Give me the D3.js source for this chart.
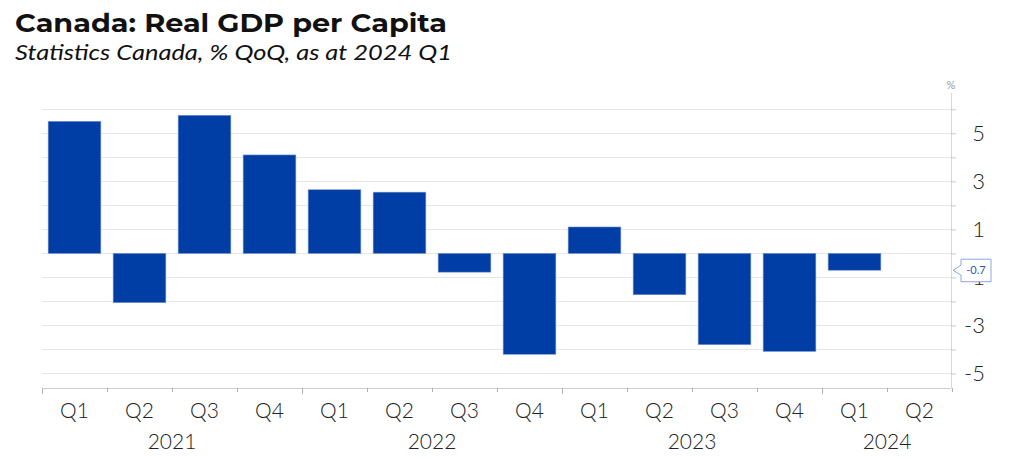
<!DOCTYPE html>
<html><head><meta charset="utf-8">
<script src="https://cdn.jsdelivr.net/npm/d3@7"></script>
<style>
body{margin:0;background:#fff;}
svg{display:block;font-family:"Lato","Open Sans","Noto Sans",sans-serif;}
</style></head>
<body>
<svg id="chart" width="1009" height="458"></svg>
<script>
const quarters = ["Q1","Q2","Q3","Q4","Q1","Q2","Q3","Q4","Q1","Q2","Q3","Q4","Q1","Q2"];
const years = ["2021","2021","2021","2021","2022","2022","2022","2022","2023","2023","2023","2023","2024","2024"];
const values = [5.5, -2.05, 5.75, 4.1, 2.65, 2.55, -0.78, -4.2, 1.1, -1.72, -3.8, -4.08, -0.7, null];
const yTicks = [5, 3, 1, -1, -3, -5];
const gridValues = [6,5,4,3,2,1,0,-1,-2,-3,-4,-5];
const yearLabels = ["2021","2022","2023","2024"];
const lastLabel = "-0.7";

(function(){
const svg = d3.select("#chart");
const pL = 42, pR = 951, pT = 93, pB = 388;
const keys = quarters.map((q,i)=>years[i]+" "+q);

const x = d3.scaleBand().domain(keys).range([pL, pR+1]).paddingInner(0.19).paddingOuter(0.095);
const y = d3.scaleLinear().domain([-5.605, 6.68]).range([pB, pT]);

// title
svg.append("text").attr("x",15).attr("y",32).text("Canada: Real GDP per Capita")
  .attr("font-family","Montserrat, Lato, 'Open Sans', sans-serif")
  .attr("font-weight",700).attr("font-size",26).attr("fill","#111")
  .attr("textLength",432).attr("lengthAdjust","spacingAndGlyphs");
svg.append("text").attr("x",15).attr("y",60).text("Statistics Canada, % QoQ, as at 2024 Q1")
  .attr("font-style","italic").attr("font-size",21).attr("fill","#111")
  .attr("textLength",437).attr("lengthAdjust","spacingAndGlyphs");

// gridlines
svg.append("g").selectAll("line").data(gridValues).join("line")
  .attr("x1",pL).attr("x2",pR)
  .attr("y1",d=>Math.round(y(d))+0.5).attr("y2",d=>Math.round(y(d))+0.5)
  .attr("stroke","#e6e6e6").attr("stroke-width",1.2);

// right axis
const yAxis = d3.axisRight(y).tickValues(gridValues).tickSize(5).tickFormat("");
const ga = svg.append("g").attr("transform",`translate(${pR},0)`).call(yAxis);
ga.select(".domain").attr("stroke","#d8d8d8").attr("d",`M0.5,${pT}V${pB}`);
ga.selectAll(".tick line").attr("stroke","#c8c8c8");
svg.append("g").selectAll("text").data(yTicks).join("text")
  .attr("x",985).attr("y",d=>y(d)).attr("dy","0.36em").attr("text-anchor","end")
  .attr("font-size",22).attr("font-weight",300).attr("fill","#222").text(d=>d);
svg.append("text").attr("x",951).attr("y",89).attr("text-anchor","middle")
  .attr("font-size",11).attr("fill","#999").text("%");

// bars
svg.append("g").selectAll("rect").data(values.map((v,i)=>({k:keys[i],v})).filter(d=>d.v!==null)).join("rect")
  .attr("x",d=>x(d.k)).attr("width",x.bandwidth())
  .attr("y",d=>y(Math.max(0,d.v))).attr("height",d=>Math.abs(y(d.v)-y(0)))
  .attr("fill","#003da5").attr("stroke","#6f8fd0").attr("stroke-width",0.6);

// x axis
const step = x.step();
const gx = svg.append("g");
gx.append("line").attr("x1",pL).attr("x2",pR).attr("y1",pB+0.5).attr("y2",pB+0.5).attr("stroke","#cfcfcf");
const bounds = d3.range(keys.length+1);
gx.selectAll("line.t").data(bounds).join("line").attr("class","t")
  .attr("x1",i=>Math.round(pL+i*step)+0.5).attr("x2",i=>Math.round(pL+i*step)+0.5)
  .attr("y1",pB).attr("y2",i=>pB + (i%4===0?6:4))
  .attr("stroke","#b0b0b0");
gx.selectAll("text.q").data(keys).join("text").attr("class","q")
  .attr("x",d=>x(d)+x.bandwidth()/2).attr("y",418).attr("text-anchor","middle")
  .attr("font-size",21).attr("font-weight",300).attr("fill","#222").text((d,i)=>quarters[i]);
gx.selectAll("text.yr").data(yearLabels).join("text").attr("class","yr")
  .attr("x",d=>{const idx=keys.findIndex(k=>k.startsWith(d)); const last=keys.length-1-[...keys].reverse().findIndex(k=>k.startsWith(d)); return (x(keys[idx])+x(keys[last])+x.bandwidth())/2;})
  .attr("y",449).attr("text-anchor","middle")
  .attr("font-size",21).attr("font-weight",300).attr("fill","#222").text(d=>d);

// last value callout
const ly = y(values[12]);
const bx = 961, bw = 30, bh = 23;
svg.append("path")
  .attr("d",`M${bx},${ly-bh/2+0.5} H${bx+bw} V${ly+bh/2} H${bx} V${ly+5} L${pR+2},${ly} L${bx},${ly-5} Z`)
  .attr("fill","#fff").attr("stroke","#8aa6e0").attr("stroke-width",1);
svg.append("text").attr("x",bx+bw/2).attr("y",ly).attr("dy","0.36em").attr("text-anchor","middle")
  .attr("font-size",11).attr("fill","#2a56b8").text(lastLabel);
})();
</script>
</body></html>
